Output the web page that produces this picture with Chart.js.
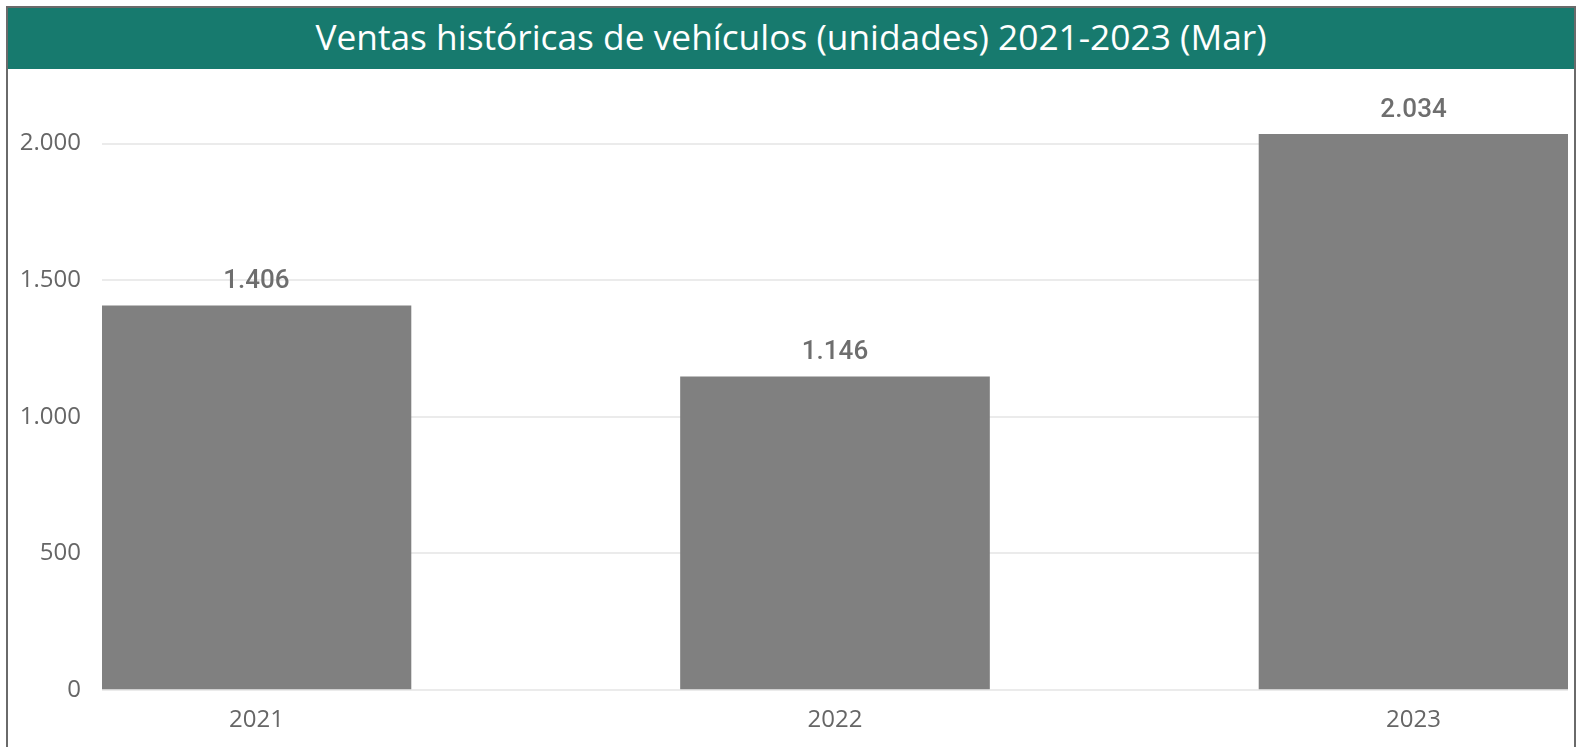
<!DOCTYPE html>
<html lang="es">
<head>
<meta charset="utf-8">
<title>Ventas históricas de vehículos</title>
<script src="https://cdn.jsdelivr.net/npm/chart.js@4.4.1/dist/chart.umd.min.js"></script>
<style>
  html, body { margin: 0; padding: 0; background: #fff; overflow: hidden; }
  #frame {
    position: absolute; left: 6px; top: 6px;
    width: 1566px; height: 760px;
    border: 2px solid #6a6a6a;
    background: #fff;
  }
  #title {
    height: 61px; line-height: 56px; box-sizing: border-box;
    background: #177a6e; color: #fff;
    text-align: center;
    font-family: "Open Sans", "Noto Sans", sans-serif;
    font-size: 35.3px;
  }
  #chartBox { position: relative; width: 1566px; height: 678px; }
</style>
</head>
<body>
<div id="frame">
  <div id="title">Ventas históricas de vehículos (unidades) 2021-2023 (Mar)</div>
  <div id="chartBox"><canvas id="salesChart"></canvas></div>
</div>
<script>
// Data
const years = ['2021', '2022', '2023'];
const sales = [1406, 1146, 2034];
const yTicks = [0, 500, 1000, 1500, 2000];

// 1406 -> "1.406"
function fmt(n) {
    return String(n).replace(/\B(?=(\d{3})+(?!\d))/g, '.');
}

// Value labels above each bar
const valueLabels = {
    id: 'valueLabels',
    afterDatasetsDraw(chart) {
        const ctx = chart.ctx;
        const meta = chart.getDatasetMeta(0);
        ctx.save();
        ctx.font = '500 26px Roboto, sans-serif';
        ctx.fillStyle = '#6e6e6e';
        ctx.textAlign = 'center';
        ctx.textBaseline = 'middle';
        meta.data.forEach((bar, i) => {
            ctx.fillText(fmt(sales[i]), bar.x, bar.y - 24);
        });
        ctx.restore();
    }
};

const axisFont = { family: '"Open Sans", "Noto Sans", sans-serif', size: 24 };

new Chart(document.getElementById('salesChart'), {
    type: 'bar',
    data: {
        datasets: [{
            data: sales.map((v, i) => ({ x: i, y: v })),
            backgroundColor: '#808080',
            barThickness: 309
        }]
    },
    options: {
        responsive: true,
        maintainAspectRatio: false,
        animation: false,
        layout: { padding: { top: 20, right: 6, left: 0, bottom: 0 } },
        plugins: {
            legend: { display: false },
            tooltip: { enabled: false }
        },
        scales: {
            x: {
                type: 'linear',
                offset: false,
                min: -0.267,
                max: 2.267,
                grid: { display: false },
                border: { display: false },
                afterBuildTicks: scale => {
                    scale.ticks = years.map((y, i) => ({ value: i }));
                },
                afterFit: scale => { scale.height = 57; },
                ticks: {
                    color: '#666666',
                    font: axisFont,
                    padding: 8,
                    callback: v => years[v]
                }
            },
            y: {
                min: 0,
                max: 2200,
                grid: { color: '#ebebeb', lineWidth: 2, drawTicks: false },
                border: { display: false },
                afterBuildTicks: scale => {
                    scale.ticks = yTicks.map(v => ({ value: v }));
                },
                afterFit: scale => {
                    scale.width = 94;
                    scale.paddingTop = 0;
                    scale.paddingBottom = 0;
                },
                ticks: {
                    color: '#666666',
                    font: axisFont,
                    padding: 21,
                    callback: v => fmt(v)
                }
            }
        }
    },
    plugins: [valueLabels]
});
</script>
</body>
</html>
